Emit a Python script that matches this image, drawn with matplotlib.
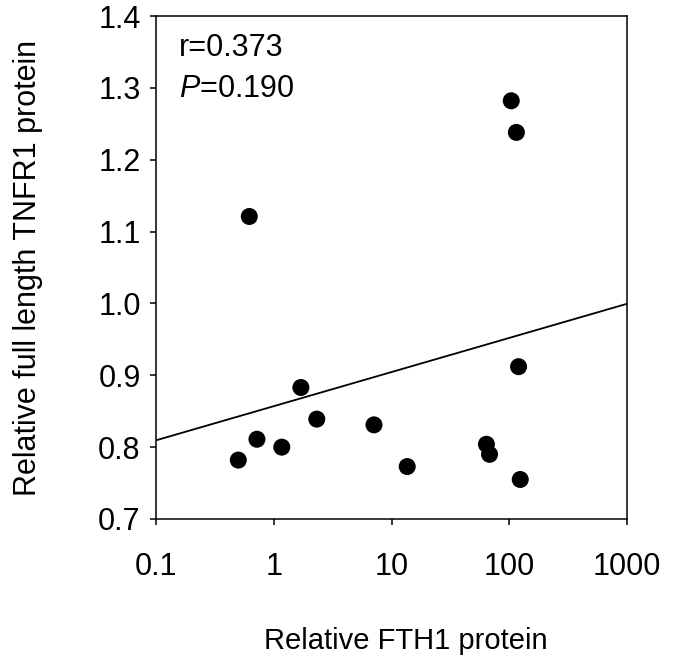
import matplotlib
matplotlib.use("Agg")
import matplotlib.pyplot as plt
import numpy as np
from matplotlib.ticker import FixedLocator, NullLocator

plt.rcParams['font.family'] = ['Liberation Sans', 'DejaVu Sans']
plt.rcParams['mathtext.fontset'] = 'custom'
plt.rcParams['mathtext.rm'] = 'Liberation Sans'
plt.rcParams['mathtext.it'] = 'Liberation Sans:italic'

# Relative FTH1 protein (x) vs relative full length TNFR1 protein (y)
fth1 = [0.50, 0.62, 0.72, 1.17, 1.70, 2.32, 7.1, 13.6, 64, 68, 104, 115, 120, 124]
tnfr1 = [0.782, 1.121, 0.811, 0.800, 0.883, 0.839, 0.831, 0.773, 0.804, 0.790,
         1.282, 1.238, 0.912, 0.755]

# Regression line: y = intercept + slope * log10(x)
fit_intercept = 0.857
fit_slope = 0.0475

x_ticks = [0.1, 1, 10, 100, 1000]
x_tick_labels = ['0.1', '1', '10', '100', '1000']
y_ticks = [0.7, 0.8, 0.9, 1.0, 1.1, 1.2, 1.3, 1.4]
y_tick_labels = ['0.7', '0.8', '0.9', '1.0', '1.1', '1.2', '1.3', '1.4']

r_text = 'r=0.373'
p_text = r'$\mathit{P}$=0.190'

FS = 22

fig = plt.figure(figsize=(6.96, 6.57), dpi=100)
ax = fig.add_axes([156 / 696, 138 / 657, 471 / 696, 503 / 657])

ax.set_xscale('log')
ax.set_xlim(x_ticks[0], x_ticks[-1])
ax.set_ylim(y_ticks[0], y_ticks[-1])

# fitted line over the whole x range
fit_x = np.array([x_ticks[0], x_ticks[-1]])
fit_y = fit_intercept + fit_slope * np.log10(fit_x)
ax.plot(fit_x, fit_y, color='black', lw=1.3, zorder=2)

ax.scatter(fth1, tnfr1, s=150, color='black', edgecolors='none', zorder=3,
           clip_on=False)

ax.xaxis.set_major_locator(FixedLocator(x_ticks))
ax.xaxis.set_minor_locator(NullLocator())
ax.set_xticklabels(x_tick_labels)
ax.yaxis.set_major_locator(FixedLocator(y_ticks))
ax.set_yticklabels(y_tick_labels)

for s in ax.spines.values():
    s.set_linewidth(1.1)
    s.set_color('black')

ax.tick_params(axis='both', direction='out', length=4, width=1.1,
               labelsize=FS, colors='black')
ax.tick_params(axis='x', pad=20)
ax.tick_params(axis='y', pad=7)

ax.set_xlabel('Relative FTH1 protein', fontsize=21)
ax.xaxis.set_label_coords(0.53, -0.215)
ax.set_ylabel('Relative full length TNFR1 protein', fontsize=FS)
ax.yaxis.set_label_coords(-0.24, 0.5)

ax.text(0.049, 0.920, r_text, transform=ax.transAxes, fontsize=FS,
        va='baseline', ha='left')
ax.text(0.049, 0.839, p_text, transform=ax.transAxes, fontsize=FS,
        va='baseline', ha='left')

fig.savefig('out.png', dpi=100)
